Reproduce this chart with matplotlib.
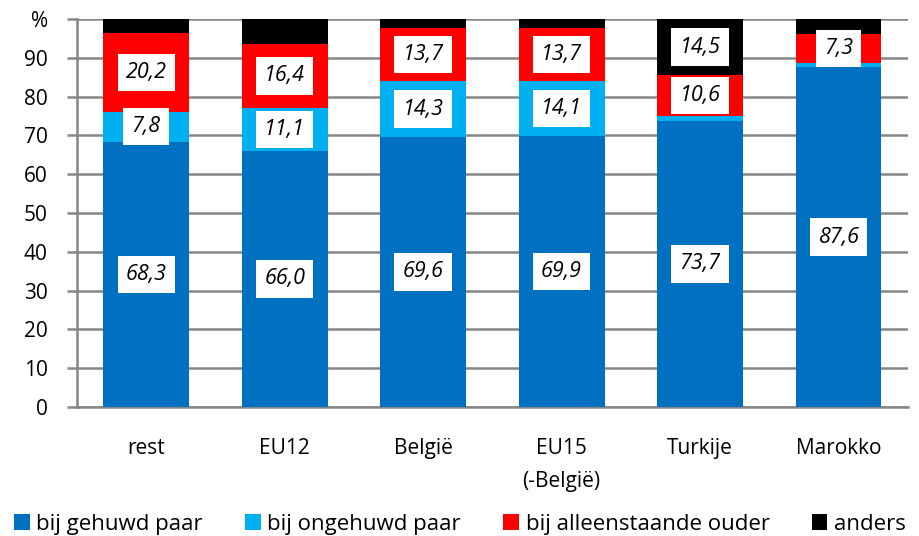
import matplotlib
matplotlib.use("Agg")
import matplotlib.pyplot as plt
import numpy as np

plt.rcParams['font.family'] = ['Open Sans', 'DejaVu Sans']

# data
groups = ['rest', 'EU12', 'België', 'EU15\n(-België)', 'Turkije', 'Marokko']
gehuwd = [68.3, 66.0, 69.6, 69.9, 73.7, 87.6]
ongehuwd = [7.8, 11.1, 14.3, 14.1, 1.2, 1.1]
alleenstaand = [20.2, 16.4, 13.7, 13.7, 10.6, 7.3]
anders = [3.7, 6.5, 2.4, 2.3, 14.5, 4.0]
series_names = ['bij gehuwd paar', 'bij ongehuwd paar', 'bij alleenstaande ouder', 'anders']
colors = ['#0070C0', '#00B0F0', '#FF0000', '#000000']
min_label = 7  # smaller segments get no label

fig = plt.figure(figsize=(9.2, 5.36), dpi=100)
ax = fig.add_axes([0.0837, 0.2407, 0.903, 0.724])

x = np.arange(len(groups))
bottom = np.zeros(len(groups))
for vals, name, col in zip([gehuwd, ongehuwd, alleenstaand, anders], series_names, colors):
    vals = np.array(vals)
    ax.bar(x, vals, 0.62, bottom=bottom, color=col, label=name, zorder=3)
    for xi, b, v in zip(x, bottom, vals):
        if v >= min_label:
            ax.text(xi, b + v / 2, f'{v:.1f}'.replace('.', ','), ha='center', va='center',
                    fontsize=15.5, style='italic', color='black', zorder=4,
                    bbox=dict(boxstyle='square,pad=0.38', fc='white', ec='none'))
    bottom += vals

ax.set_xlim(-0.5, len(groups) - 0.5)
ax.set_ylim(0, 100)
ax.set_yticks(np.arange(0, 101, 10))
ax.set_yticklabels([str(v) for v in range(0, 100, 10)] + ['%'])
ax.set_xticks(x)
ax.set_xticklabels(groups, linespacing=1.75)
ax.tick_params(axis='y', labelsize=15, length=7, width=1.8, color='#868686', pad=14)
ax.tick_params(axis='x', labelsize=15, length=0, pad=22)
ax.yaxis.grid(True, color='#868686', linewidth=1.8, zorder=0)
ax.set_axisbelow(True)
for s in ['top', 'right']:
    ax.spines[s].set_visible(False)
ax.spines['left'].set_color('#868686')
ax.spines['left'].set_linewidth(1.8)
ax.spines['bottom'].set_color('#868686')
ax.spines['bottom'].set_linewidth(1.8)

fig.legend(loc='lower center', ncol=4, frameon=False, fontsize=16,
           handlelength=0.7, handleheight=0.7, handletextpad=0.3, columnspacing=1.9,
           bbox_to_anchor=(0.5, -0.035))

fig.savefig('out.png', dpi=100)
